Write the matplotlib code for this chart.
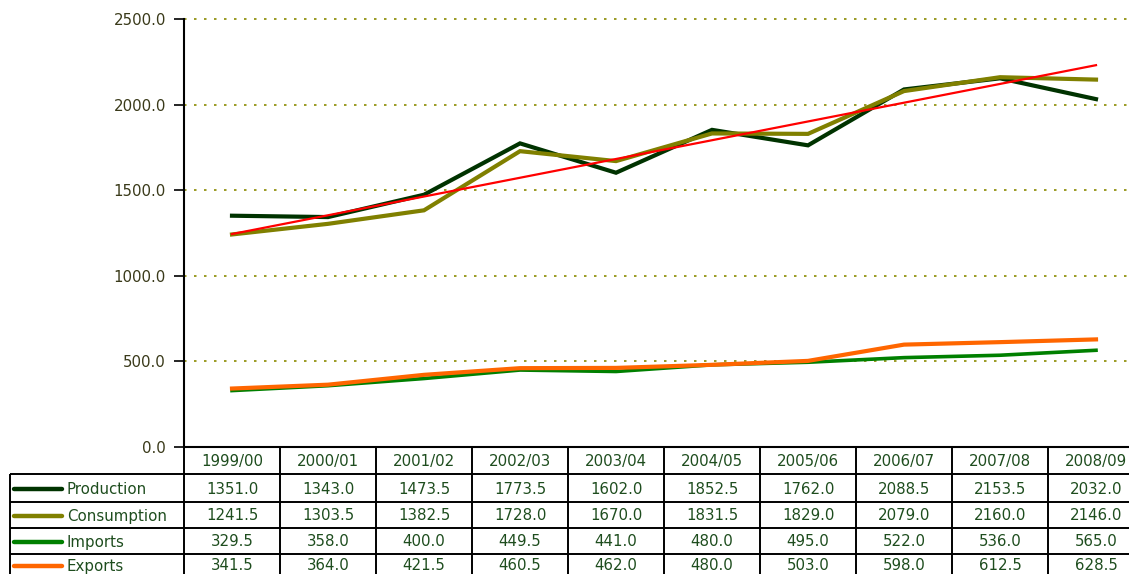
import numpy as np
import matplotlib
matplotlib.use("Agg")
import matplotlib.pyplot as plt

years = ["1999/00", "2000/01", "2001/02", "2002/03", "2003/04",
         "2004/05", "2005/06", "2006/07", "2007/08", "2008/09"]
production = [1351.0, 1343.0, 1473.5, 1773.5, 1602.0, 1852.5, 1762.0, 2088.5, 2153.5, 2032.0]
consumption = [1241.5, 1303.5, 1382.5, 1728.0, 1670.0, 1831.5, 1829.0, 2079.0, 2160.0, 2146.0]
imports = [329.5, 358.0, 400.0, 449.5, 441.0, 480.0, 495.0, 522.0, 536.0, 565.0]
exports = [341.5, 364.0, 421.5, 460.5, 462.0, 480.0, 503.0, 598.0, 612.5, 628.5]

series_names = ["Production", "Consumption", "Imports", "Exports"]
series_vals = [production, consumption, imports, exports]
series_cols = ["#003300", "#808000", "#008000", "#FF6600"]
series_lw = [3.0, 3.0, 2.6, 3.0]

W, H = 1129, 574
fig = plt.figure(figsize=(W / 100, H / 100), dpi=100)
FONT = "DejaVu Sans"
FS = 10.8
TXT = "#1e4d1e"

# plot area
x0, y_bot, y_top, colw = 184, 447, 19, 96.0
ncol = len(years)
ax = fig.add_axes([x0 / W, (H - y_bot) / H, ncol * colw / W, (y_bot - y_top) / H])
ax.set_xlim(0, ncol)
ax.set_ylim(0, 2500)
xs = np.arange(ncol) + 0.5

for y in [500, 1000, 1500, 2000, 2500]:
    ax.axhline(y, color="#8a8a00", lw=1.2, ls=(0, (1.5, 4.5)), zorder=1, clip_on=False)

for k in [2, 3, 0, 1]:
    ax.plot(xs, series_vals[k], color=series_cols[k], lw=series_lw[k],
            solid_joinstyle="miter", zorder=3)

coef = np.polyfit(np.arange(ncol), consumption, 1)
trend = np.polyval(coef, np.arange(ncol))
ax.plot([xs[0], xs[-1]], [trend[0], trend[-1]], color="#FF0000", lw=1.6, zorder=4)

ticks = [0, 500, 1000, 1500, 2000, 2500]
ax.set_yticks(ticks)
ax.set_yticklabels([f"{v:.1f}" for v in ticks],
                   fontsize=FS, family=FONT, color="#3a3a1a")
ax.tick_params(axis="y", direction="out", length=7, width=1.2, pad=6, color="black")
ax.set_xticks([])
for s in ["top", "right"]:
    ax.spines[s].set_visible(False)
ax.spines["left"].set_linewidth(1.5)
ax.spines["bottom"].set_linewidth(1.5)

# table overlay in pixel coordinates
ov = fig.add_axes([0, 0, 1, 1], zorder=5)
ov.set_xlim(0, W)
ov.set_ylim(H, 0)
ov.axis("off")
ov.patch.set_alpha(0)

row_lines = [447, 474, 502, 528, 554, 580]
lk = dict(color="black", lw=1.4, solid_capstyle="butt")
for i in range(ncol + 1):
    xv = x0 + i * colw
    ov.plot([xv, xv], [447, 580], **lk)
ov.plot([10, 10], [474, 580], **lk)
for yl in row_lines[1:]:
    ov.plot([10, x0 + ncol * colw], [yl, yl], **lk)

for i, yr in enumerate(years):
    ov.text(x0 + (i + 0.5) * colw, (row_lines[0] + row_lines[1]) / 2 + 1, yr,
            ha="center", va="center", fontsize=FS, family=FONT, color=TXT)

for r, (name, vals, col) in enumerate(zip(series_names, series_vals, series_cols)):
    yc = (row_lines[r + 1] + row_lines[r + 2]) / 2 + 1
    if r == 3:
        yc = 566
    ov.plot([14, 62], [yc, yc], color=col, lw=3.2, solid_capstyle="round")
    ov.text(67, yc + 1, name, ha="left", va="center", fontsize=FS, family=FONT, color=TXT)
    for i, v in enumerate(vals):
        ov.text(x0 + (i + 0.5) * colw, yc, f"{v:.1f}", ha="center", va="center",
                fontsize=FS, family=FONT, color=TXT)

fig.savefig("out.png", dpi=100)
